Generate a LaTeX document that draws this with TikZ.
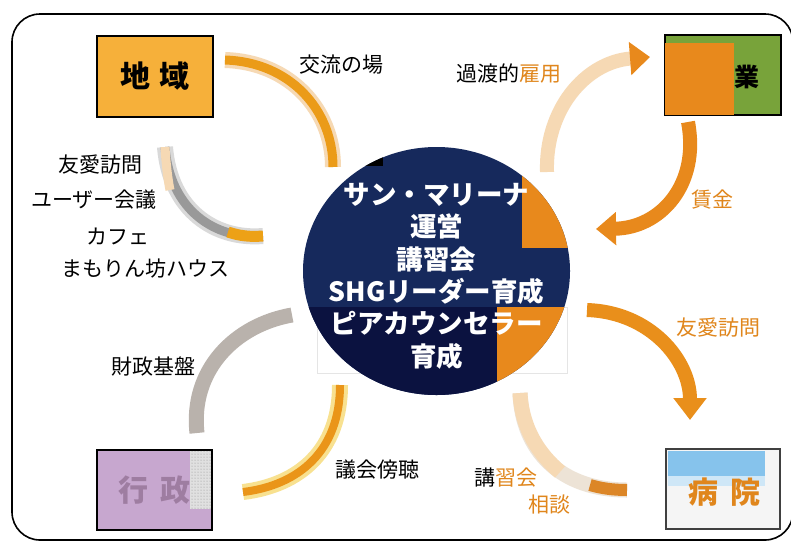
\documentclass[tikz,border=0pt]{standalone}
\usepackage{fontspec}
\setmainfont{Noto Sans CJK JP}
\usetikzlibrary{arrows.meta,shapes.geometric,patterns}
\definecolor{arrowor}{HTML}{E8891C}
\definecolor{txtor}{HTML}{E0861C}
\definecolor{boxor}{HTML}{F6B03A}
\definecolor{gr}{HTML}{78A33A}
\definecolor{navy}{HTML}{16295C}
\definecolor{dnavy}{HTML}{0B1240}
\definecolor{purp}{HTML}{C7A7CF}
\definecolor{purptxt}{HTML}{9E7DA1}
\definecolor{pale}{HTML}{F6D9B4}
\definecolor{greyarr}{HTML}{B9B2AC}
\definecolor{skyb}{HTML}{86C3EC}
\begin{document}
\begin{tikzpicture}[x=1pt,y=-1pt,
  lbl/.style={font=\fontsize{21}{24}\selectfont, inner sep=0pt},
  boxx/.style={draw=black, line width=1.2pt, inner sep=0pt, minimum width=115pt, minimum height=80pt},
  boxtxt/.style={font=\fontsize{30}{31}\selectfont\bfseries, inner sep=0pt},
  under/.style={line width=16pt, draw=pale},
  core/.style={line width=9pt, draw=arrowor}
]
\useasboundingbox (0,0) rectangle (791,544);
\fill[white] (0,0) rectangle (791,544);
% frame
\draw[line width=1.6pt, rounded corners=28pt] (12,14) rectangle (793,540);

% boxes
\node[boxx, fill=boxor, minimum width=116pt, minimum height=81pt] (chiiki) at (155,76.5) {};
\node[boxtxt] (chiikit) at (chiiki.center) {地\hspace{10pt}域};

\node[boxx, fill=gr, minimum width=116pt, minimum height=80pt] (gyou) at (723,75) {};
\fill[arrowor] (665,43) rectangle (734,115);
\draw[line width=1.2pt] (gyou.north west) rectangle (gyou.south east);
\node[font=\fontsize{25}{26}\selectfont\bfseries, inner sep=0pt] (gyout) at (747,77) {業};

\node[boxx, fill=purp, minimum width=115pt, minimum height=80pt] (gyosei) at (154.5,490) {};
\fill[black!12] (190,451) rectangle (211.4,509);
\fill[pattern=dots, pattern color=black!45] (190,451) rectangle (211.4,509);
\node[boxtxt, text=purptxt] (gyoseit) at (gyosei.center) {行\hspace{12pt}政};

\node[boxx, draw=black!75, fill=black!4, minimum width=114pt, minimum height=80pt] (byoin) at (723,489) {};
\fill[skyb] (668,451) rectangle (765,476);
\fill[skyb!40] (668,476) rectangle (765,486);
\node[boxtxt, text=txtor] (byoint) at (724,492) {病\hspace{12pt}院};

% faint rectangle behind circle
\draw[black!10, fill=white] (317,307) rectangle (567,373);

% central circle
\node[ellipse, fill=navy, minimum width=267pt, minimum height=248pt, inner sep=0pt] (hub) at (436.5,271) {};
\begin{scope}
  \clip (436.5,271) ellipse [x radius=133.5pt, y radius=124pt];
  \fill[dnavy] (290,307) rectangle (497,400);
  \fill[arrowor] (497,307) rectangle (580,400);
  \fill[arrowor] (522,172) rectangle (580,248);
  \fill[black] (352,140) rectangle (383,166);
\end{scope}
\node[font=\fontsize{26.5}{32.4}\selectfont\bfseries, text=white, align=center, inner sep=0pt] (hubtxt) at (436.5,276)
  {サン・マリーナ\\運営\\講習会\\SHGリーダー育成\\ピアカウンセラー\\育成};

% arrow end points
\coordinate (a1s) at (225,60);   \coordinate (a1e) at (333,167);
\coordinate (a2s) at (165,147);  \coordinate (a2e) at (263,236);
\coordinate (a3s) at (547,172);  \coordinate (a3e) at (650,57);
\coordinate (a4s) at (688,122);  \coordinate (a4e) at (596,229);
\coordinate (a5s) at (587,310);  \coordinate (a5e) at (690,420);
\coordinate (a6s) at (627,490);  \coordinate (a6e) at (520,393);
\coordinate (a7s) at (340,385);  \coordinate (a7e) at (243,492);
\coordinate (a8s) at (292,315);  \coordinate (a8e) at (197,433);

% 交流の場
\draw[under] (a1s) .. controls (290,62) and (333,110) .. (a1e);
\draw[core, draw=arrowor!85!yellow] (a1s) .. controls (290,62) and (333,110) .. (a1e);
% left arc
\draw[under, draw=black!15] (a2s) .. controls (170,210) and (215,240) .. (a2e);
\draw[line width=9pt, draw=black!40] (a2s) .. controls (170,210) and (215,240) .. (a2e);
\draw[line width=9pt, draw=pale] (a2s) .. controls (166,165) and (168,180) .. (170,190);
\draw[line width=11pt, draw=arrowor!80!yellow] (228,232) .. controls (240,236) and (250,237) .. (a2e);
% 過渡的雇用
\draw[line width=14pt, draw=pale, -{Triangle[width=32pt,length=20pt,fill=arrowor,color=arrowor]}] (a3s) .. controls (545,110) and (585,62) .. (a3e);
% 賃金
\draw[line width=14pt, draw=arrowor, -{Triangle[width=32pt,length=20pt]}] (a4s) .. controls (700,185) and (660,228) .. (a4e);
% 友愛訪問 right
\draw[line width=14pt, draw=arrowor!95!yellow, -{Triangle[width=32pt,length=22pt]}] (a5s) .. controls (650,312) and (690,360) .. (a5e);
% 講習会 相談
\draw[line width=15pt, draw=pale!85!black!40] (a6s) .. controls (560,490) and (522,450) .. (a6e);
\draw[line width=15pt, draw=pale] (560,472) .. controls (540,455) and (522,430) .. (a6e);
\draw[line width=12pt, draw=arrowor!70!brown] (a6s) .. controls (612,490) and (600,488) .. (590,485);
% 議会傍聴
\draw[under, draw=pale!80!yellow] (a7s) .. controls (340,450) and (300,485) .. (a7e);
\draw[line width=8pt, draw=arrowor!90!yellow] (a7s) .. controls (340,450) and (300,485) .. (a7e);
% 財政基盤
\draw[line width=15pt, draw=greyarr] (a8s) .. controls (235,325) and (190,370) .. (a8e);

% labels
\node[lbl] (l1) at (341,65) {交流の場};
\node[lbl] (l2) at (509,74) {過渡的\textcolor{txtor}{雇用}};
\node[lbl, text=txtor] (l3) at (712,200) {賃金};
\node[lbl, text=txtor] (l4) at (718,328) {友愛訪問};
\node[lbl] (l5) at (506,478) {講\textcolor{txtor}{習会}};
\node[lbl, text=txtor] (l6) at (549,505) {相談};
\node[lbl] (l7) at (377,470) {議会傍聴};
\node[lbl] (l8) at (153,367) {財政基盤};
\node[lbl] (l9) at (100,165) {友愛訪問};
\node[lbl] (l10) at (94,200) {ユーザー会議};
\node[lbl] (l11) at (118,237) {カフェ};
\node[lbl] (l12) at (145,269) {まもりん坊ハウス};
\end{tikzpicture}
\end{document}
